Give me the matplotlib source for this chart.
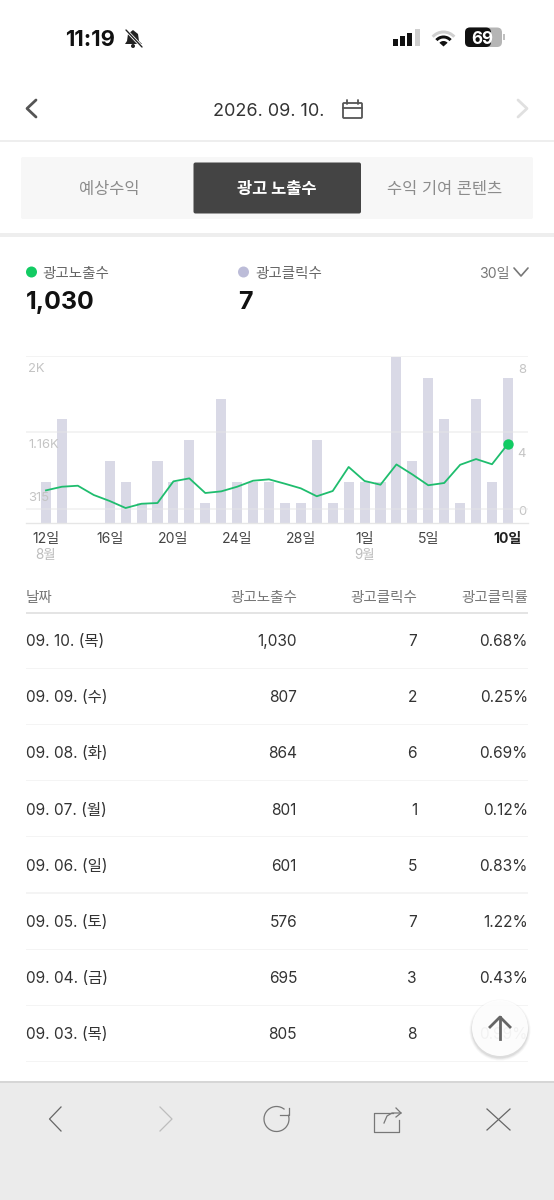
import matplotlib
matplotlib.use("Agg")
import matplotlib.pyplot as plt
from matplotlib.patches import Circle, FancyBboxPatch, Rectangle, Wedge, Arc, Polygon

plt.rcParams['font.family'] = ['Inter', 'Noto Sans CJK KR', 'DejaVu Sans']

# chart data, 12 Aug - 10 Sep
day_labels = ["12일", "16일", "20일", "24일", "28일", "1일", "5일", "10일"]
day_positions = [0, 4, 8, 12, 16, 20, 24, 29]
clicks = [2, 5, 0, 0, 3, 2, 1, 3, 2, 4, 1, 6, 2, 2, 2, 1, 1, 4, 1, 2, 2, 2, 8, 3, 7, 5, 1, 6, 2, 7]
impressions = [520, 560, 571, 469, 403, 326, 373, 381, 619, 652, 491, 509, 560, 626, 641,
               593, 542, 455, 513, 777, 623, 582, 805, 695, 576, 601, 801, 864, 807, 1030]
left_ticks = [315, 1160, 2000]
left_tick_labels = ["315", "1.16K", "2K"]
right_ticks = [0, 4, 8]

# table data
table_header = ["날짜", "광고노출수", "광고클릭수", "광고클릭률"]
table_dates = ["09. 10. (목)", "09. 09. (수)", "09. 08. (화)", "09. 07. (월)",
               "09. 06. (일)", "09. 05. (토)", "09. 04. (금)", "09. 03. (목)"]
table_impressions = ["1,030", "807", "864", "801", "601", "576", "695", "805"]
table_clicks = ["7", "2", "6", "1", "5", "7", "3", "8"]
table_rates = ["0.68%", "0.25%", "0.69%", "0.12%", "0.83%", "1.22%", "0.43%", "0.99%"]

W, H = 554, 1200
fig = plt.figure(figsize=(W / 100, H / 100), dpi=100, facecolor="white")


def px(size):
    return size * 0.72


# page in pixel coords
ui = fig.add_axes([0, 0, 1, 1], zorder=1)
ui.set_xlim(0, W)
ui.set_ylim(H, 0)
ui.axis("off")


def label(x, y, s, size, color="#333333", ha="left", weight="normal", **kw):
    return ui.text(x, y, s, fontsize=px(size), color=color, ha=ha, va="center_baseline", fontweight=weight, **kw)


def stroke(xs, ys, color="#555555", lw=1.0):
    ui.plot(xs, ys, color=color, lw=lw, solid_capstyle="round", solid_joinstyle="round")


def rbox(x0, y0, x1, y1, color, r=2, **kw):
    ui.add_patch(FancyBboxPatch((x0 + r, y0 + r), x1 - x0 - 2 * r, y1 - y0 - 2 * r,
                                boxstyle=f"round,pad={r}", fc=color, ec="none", **kw))


# status bar
label(65, 38, "11:19", 22, "#111111", weight="bold")
ui.add_patch(Polygon([(125, 44), (127, 41), (128, 34), (133, 30), (138, 34), (139, 41), (142, 44)], fc="#222222", ec="none"))
ui.add_patch(Circle((133, 46), 2, fc="#222222", ec="none"))
stroke([125, 142], [29, 47], "white", 2.2)
stroke([126, 142], [30, 47], "#222222", 1.0)
for i, (h, c) in enumerate(zip([7, 10, 13, 17], ["#111111", "#111111", "#111111", "#cfcfcf"])):
    ui.add_patch(Rectangle((393 + i * 7.2, 45.5 - h), 5, h, fc=c, ec="none"))
for r, c in [(16, "#cfcfcf"), (11, "#111111"), (5.5, "#111111")]:
    ui.add_patch(Wedge((443.5, 46.5), r, 222, 318, width=3 if r > 6 else r, fc=c, ec="none"))
rbox(465, 27.5, 502, 47, "#b5b5b5", r=5)
rbox(465, 27.5, 491, 47, "#111111", r=5)
ui.add_patch(Rectangle((503, 34), 2, 6, fc="#c0c0c0", ec="none"))
label(482, 38, "69", 17, "white", ha="center", weight="bold")

# date nav
stroke([36, 27, 36], [100, 108.5, 117], "#555555", 2.0)
stroke([518, 527, 518], [100, 108.5, 117], "#e0e0e0", 2.0)
label(269, 110, "2026. 09. 10.", 18, "#333333", ha="center")
ui.add_patch(FancyBboxPatch((344, 104), 17, 13, boxstyle="round,pad=1", fc="none", ec="#555555", lw=1.3))
stroke([343, 362], [108, 108], "#555555", 1.3)
stroke([347, 347], [100, 104], "#555555", 1.3)
stroke([358, 358], [100, 104], "#555555", 1.3)
ui.add_patch(Rectangle((0, 140), W, 2, fc="#eeeeee", ec="none"))

# tabs
rbox(21, 157, 533, 219, "#f7f7f7", r=2)
rbox(193.5, 162.5, 361, 213.5, "#444444", r=2)
label(109, 188, "예상수익", 16.5, "#8c8c8c", ha="center")
label(277, 188, "광고 노출수", 16.5, "white", ha="center", weight="bold")
label(444.5, 188, "수익 기여 콘텐츠", 16.5, "#8c8c8c", ha="center")
ui.add_patch(Rectangle((0, 233), W, 3.5, fc="#eeeeee", ec="none"))

# legend row
ui.add_patch(Circle((31.5, 272), 5.5, fc="#12cb63", ec="none"))
label(42, 272.5, "광고노출수", 14.5, "#666666")
ui.add_patch(Circle((243.5, 272), 5.5, fc="#bcbcd8", ec="none"))
label(255, 272.5, "광고클릭수", 14.5, "#666666")
label(26, 300, table_impressions[0], 25, "#111111", weight="bold")
label(238, 300, table_clicks[0], 25, "#111111", weight="bold")
label(479, 272.5, "30일", 14, "#777777")
stroke([514, 521, 528], [268, 276, 268], "#777777", 1.2)

# chart
x0, x1, y_top, y_base = 26, 528, 355.7, 523.3
ax = fig.add_axes([x0 / W, 1 - y_base / H, (x1 - x0) / W, (y_base - y_top) / H], zorder=2)
ax.patch.set_alpha(0)
days = list(range(len(clicks)))
ax.bar(days, clicks, width=0.63, color="#d9d9e6", zorder=2)
ax.set_xlim(-1.255, 30.26)
ax.set_ylim(0, 8.06)
ax.set_yticks(right_ticks)
ax.yaxis.tick_right()
ax.set_yticklabels([])
ax.tick_params(axis="y", length=0)
ax.set_xticks(day_positions)
ax.set_xticklabels(day_labels, fontsize=px(14), color="#444444")
ax.tick_params(axis="x", length=0, pad=6.5)
ax.get_xticklabels()[-1].set_fontweight("bold")
ax.get_xticklabels()[-1].set_color("#222222")
for side in ["top", "left", "right"]:
    ax.spines[side].set_visible(False)
ax.spines["bottom"].set_color("#e6e6e6")
ax.spines["bottom"].set_linewidth(1.0)
for t, v in zip(right_ticks, [11, -14, -13.5]):
    ax.annotate(str(t), xy=(1, t), xycoords=ax.get_yaxis_transform(), xytext=(-1.5, px(v)),
                textcoords="offset points", ha="right", va="center", fontsize=px(13), color="#c4c4c4")

line_ax = ax.twinx()
line_ax.patch.set_alpha(0)
line_ax.set_ylim(158, 2000)
line_ax.set_yticks(left_ticks)
line_ax.set_yticklabels([])
line_ax.tick_params(axis="y", length=0)
line_ax.grid(axis="y", color="#e6e6e6", alpha=0.55, lw=1.2, zorder=3)
for spine in line_ax.spines.values():
    spine.set_visible(False)
line_ax.plot(days, impressions, color="#1fbd6e", lw=1.3, zorder=5)
line_ax.plot(days[-1], impressions[-1], "o", color="#12cb63", ms=7.5, mew=0, zorder=6)
for t, s, off in zip(left_ticks, left_tick_labels, [11, -13, -13]):
    line_ax.annotate(s, xy=(0, t), xycoords=line_ax.get_yaxis_transform(), xytext=(1.5, px(off)),
                     textcoords="offset points", ha="left", va="center", fontsize=px(13), color="#c4c4c4")

# month labels under the ticks
for pos, s in [(0, "8월"), (20, "9월")]:
    ax.annotate(s, xy=(pos, 0), xycoords=ax.get_xaxis_transform(), xytext=(0, -px(32)),
                textcoords="offset points", ha="center", va="center", fontsize=px(13.5), color="#bdbdbd")

# table
col_x = [26, 297, 417, 528]
for i, (x, s) in enumerate(zip(col_x, table_header)):
    label(x, 596.5, s, 14.5, "#777777", ha="left" if i == 0 else "right")
ui.add_patch(Rectangle((26, 611.5), 502, 2, fc="#e4e4e4", ec="none"))
for i in range(len(table_dates)):
    y = 639.5 + i * 56.2
    label(col_x[0], y + 0.5, table_dates[i], 15.5, "#333333")
    label(col_x[1], y + 0.5, table_impressions[i], 15.5, "#333333", ha="right")
    label(col_x[2], y + 0.5, table_clicks[i], 15.5, "#333333", ha="right")
    label(col_x[3], y + 0.5, table_rates[i], 15.5, "#333333", ha="right")
    ui.add_patch(Rectangle((26, y + 28), 502, 1.2, fc="#f4f4f4", ec="none"))

# scroll-to-top button
for grow, a in [(2.5, 0.08), (1.5, 0.12), (0.5, 0.18)]:
    ui.add_patch(Circle((500, 1030), 28 + grow, fc="#999999", alpha=a, ec="none", zorder=4))
ui.add_patch(Circle((500, 1028), 28, fc="white", alpha=0.93, ec="none", zorder=5))
ui.plot([500, 500], [1039, 1017], color="#666666", lw=2, zorder=6)
ui.plot([490, 500, 510], [1027, 1017, 1027], color="#666666", lw=2, zorder=6)

# browser toolbar
ui.add_patch(Rectangle((0, 1081), W, 119, fc="#ebebeb", ec="none", zorder=7))
ui.add_patch(Rectangle((0, 1081), W, 1.5, fc="#d6d6d6", ec="none", zorder=7))
tb = dict(lw=0.9, zorder=8)
ui.plot([61, 49.5, 61], [1107, 1119, 1131], color="#666666", **tb)
ui.plot([160, 172, 160], [1107, 1119, 1131], color="#bdbdbd", **tb)
ui.add_patch(Arc((276.5, 1119), 25, 25, theta1=-20, theta2=310, ec="#777777", lw=0.9, zorder=8))
ui.plot([289, 289, 280], [1108, 1115, 1115], color="#777777", **tb)
ui.plot([393, 374, 374, 399, 399], [1113, 1113, 1132, 1132, 1120], color="#777777", **tb)
ui.plot([384, 387, 392, 401], [1123, 1116, 1113, 1113], color="#777777", **tb)
ui.plot([396, 401, 396], [1108, 1113, 1117], color="#777777", **tb)
ui.plot([487, 510], [1109, 1130], color="#666666", **tb)
ui.plot([510, 487], [1109, 1130], color="#666666", **tb)

fig.savefig("out.png", dpi=100)
